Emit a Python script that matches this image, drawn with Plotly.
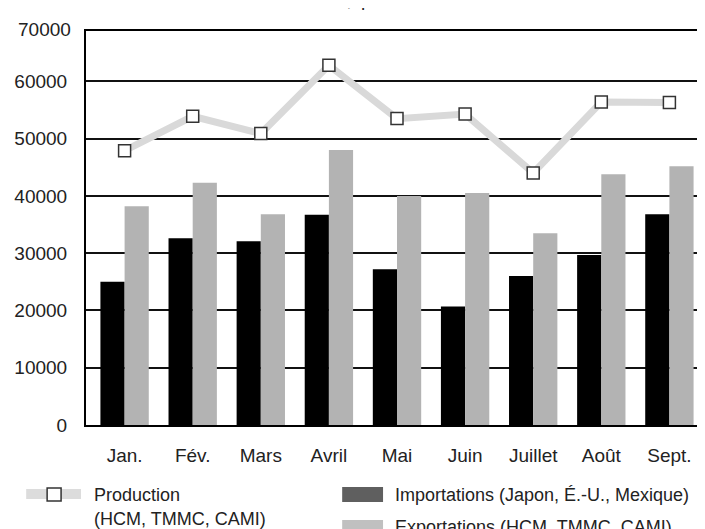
import plotly.graph_objects as go

months = ["Jan.", "Fév.", "Mars", "Avril", "Mai", "Juin", "Juillet", "Août", "Sept."]
importations = [25000, 32600, 32100, 36700, 27200, 20700, 26000, 29700, 36800]
exportations = [38200, 42300, 36800, 48000, 40000, 40500, 33500, 43800, 45200]
production = [47900, 53900, 50900, 62800, 53500, 54300, 44000, 56400, 56300]
y_ticks = [0, 10000, 20000, 30000, 40000, 50000, 60000, 70000]
y_max = 68800

W, H = 705, 529
L, R, T, B = 78, 3, 23, 112
PW, PH = W - L - R, H - T - B

FONT = "Liberation Sans, Arial, sans-serif"
TXT = "#222222"
FS = 19
LFS = 18


def px(x):
    return (x - L) / PW


def py(y):
    return 1 - (y - T) / PH


fig = go.Figure()
fig.add_trace(go.Bar(x=months, y=importations, marker=dict(color="#000000", line=dict(width=0)),
                     name="Importations (Japon, É.-U., Mexique)"))
fig.add_trace(go.Bar(x=months, y=exportations, marker=dict(color="#b3b3b3", line=dict(width=0)),
                     name="Exportations (HCM, TMMC, CAMI)"))
fig.add_trace(go.Scatter(x=months, y=production, mode="lines+markers",
                         line=dict(color="#d9d9d9", width=7),
                         marker=dict(symbol="square", size=12, color="white",
                                     line=dict(color="#333333", width=1.5)),
                         name="Production (HCM, TMMC, CAMI)", cliponaxis=False))

fig.update_layout(
    width=W, height=H,
    margin=dict(l=L, r=R, t=T, b=B, pad=0),
    paper_bgcolor="white", plot_bgcolor="white",
    barmode="group", bargap=0.29, bargroupgap=0,
    showlegend=False,
    font=dict(family=FONT, size=FS, color=TXT),
)
fig.update_xaxes(showline=True, linecolor="black", linewidth=2, mirror=True,
                 showgrid=False, ticks="outside", ticklen=12, tickcolor="rgba(0,0,0,0)",
                 tickfont=dict(family=FONT, size=FS, color=TXT))
fig.update_yaxes(range=[0, y_max], tickvals=y_ticks, ticktext=[str(v) for v in y_ticks],
                 showline=True, linecolor="black", linewidth=2, mirror=True,
                 showgrid=True, gridcolor="#111111", gridwidth=1.5, zeroline=False,
                 ticks="outside", ticklen=13, tickcolor="rgba(0,0,0,0)",
                 tickfont=dict(family=FONT, size=FS, color=TXT))

ann = []
# tick labels above the axis range (placed in paper units derived from the value)
for v in y_ticks:
    if v > y_max:
        ann.append(dict(x=0, xref="paper", y=v / y_max, yref="paper", text=str(v), showarrow=False,
                        xanchor="right", yanchor="middle", xshift=-13, yshift=-5,
                        font=dict(family=FONT, size=FS, color=TXT)))

# partially visible title at the top edge
ann.append(dict(x=px(347), y=py(4), xref="paper", yref="paper", text="Véhicules,",
                showarrow=False, xanchor="right", yanchor="bottom",
                font=dict(family=FONT, size=FS, color=TXT)))
ann.append(dict(x=px(352), y=py(4), xref="paper", yref="paper", text="par mois",
                showarrow=False, xanchor="left", yanchor="bottom",
                font=dict(family=FONT, size=FS, color=TXT)))

legend_text = [
    ("Production", 84, 487),
    ("(HCM, TMMC, CAMI)", 84, 511),
    ("Importations (Japon, É.-U., Mexique)", 386, 487),
    ("Exportations (HCM, TMMC, CAMI)", 386, 519),
]
for t, x, y in legend_text:
    ann.append(dict(x=px(x), y=py(y), xref="paper", yref="paper", text=t, showarrow=False,
                    xanchor="left", yanchor="middle", font=dict(family=FONT, size=LFS, color=TXT)))

shapes = [
    dict(type="line", xref="paper", yref="paper", x0=px(18), x1=px(73), y0=py(486), y1=py(486),
         line=dict(color="#dcdcdc", width=10)),
    dict(type="rect", xref="paper", yref="paper", x0=px(39), x1=px(53), y0=py(480), y1=py(493),
         fillcolor="white", line=dict(color="#333333", width=1.5)),
    dict(type="rect", xref="paper", yref="paper", x0=px(335), x1=px(376), y0=py(479), y1=py(494),
         fillcolor="#5f5f5f", line=dict(width=0)),
    dict(type="rect", xref="paper", yref="paper", x0=px(335), x1=px(376), y0=py(512), y1=py(528),
         fillcolor="#c0c0c0", line=dict(width=0)),
]

fig.update_layout(annotations=ann, shapes=shapes)
fig.write_html("out.html")
